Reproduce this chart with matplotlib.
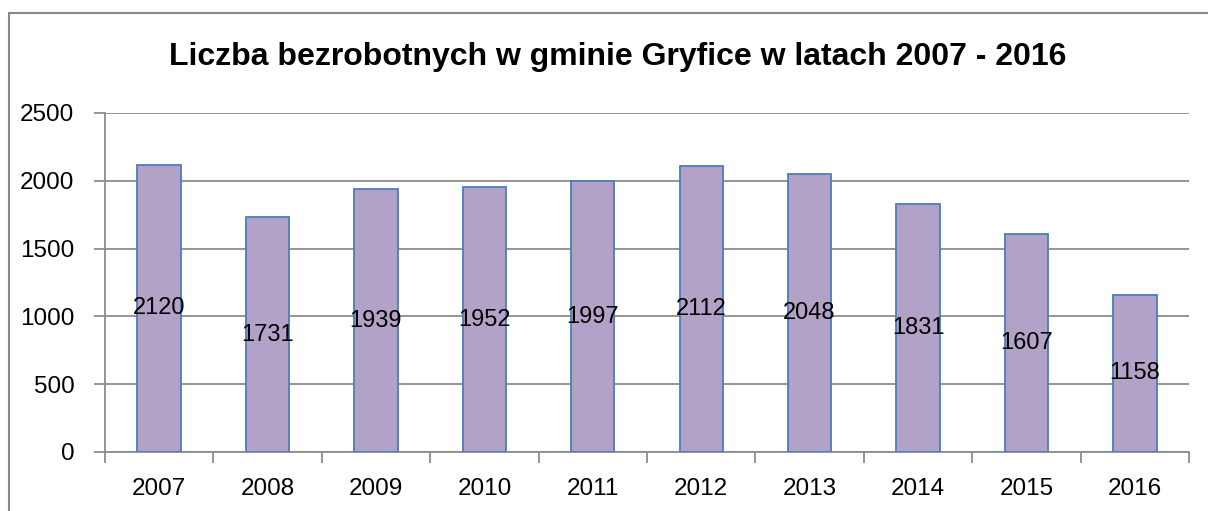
import matplotlib.pyplot as plt
from matplotlib.patches import Rectangle

plt.rcParams['font.family'] = ['Liberation Sans', 'DejaVu Sans']

# dane
years = ['2007', '2008', '2009', '2010', '2011', '2012', '2013', '2014', '2015', '2016']
unemployed = [2120, 1731, 1939, 1952, 1997, 2112, 2048, 1831, 1607, 1158]

fig = plt.figure(figsize=(12.08, 5.11), dpi=100)
ax = fig.add_axes([0.0869, 0.1155, 0.8974, 0.6634])

x = range(len(years))
ax.bar(x, unemployed, width=0.4, color='#B3A2C7', edgecolor='#4A7EBB', linewidth=1.3, zorder=3)

# wartości w środku słupków
for i, v in enumerate(unemployed):
    ax.text(i, v / 2, str(v), ha='center', va='center', fontsize=17, color='black', zorder=4)

ax.set_xlim(-0.5, len(years) - 0.5)
ax.set_ylim(0, 2500)
ax.set_yticks(range(0, 2501, 500))
ax.yaxis.grid(True, color='#8C8C8C', linewidth=1.3, zorder=0)

ax.set_xticks([i - 0.5 for i in range(len(years) + 1)])
ax.set_xticklabels([])
ax.set_xticks(list(x), minor=True)
ax.set_xticklabels(years, minor=True, fontsize=17.5)
ax.tick_params(axis='x', which='major', direction='out', length=8, width=1.3, color='#8C8C8C')
ax.tick_params(axis='x', which='minor', length=0, pad=19)
ax.tick_params(axis='y', direction='out', length=8, width=1.3, color='#8C8C8C', labelsize=17.5, pad=14)

for s in ['top', 'right']:
    ax.spines[s].set_visible(False)
for s in ['left', 'bottom']:
    ax.spines[s].set_color('#8C8C8C')
    ax.spines[s].set_linewidth(1.3)

fig.text(0.511, 0.888, 'Liczba bezrobotnych w gminie Gryfice w latach 2007 - 2016',
         ha='center', va='center', fontsize=23, fontweight='bold')

# ramka wykresu
fig.patches.append(Rectangle((9 / 1208, -0.1), 1.2, 1.1 - 13 / 511, transform=fig.transFigure,
                             fill=False, edgecolor='#888888', linewidth=1.5))

fig.savefig('out.png', dpi=100)
